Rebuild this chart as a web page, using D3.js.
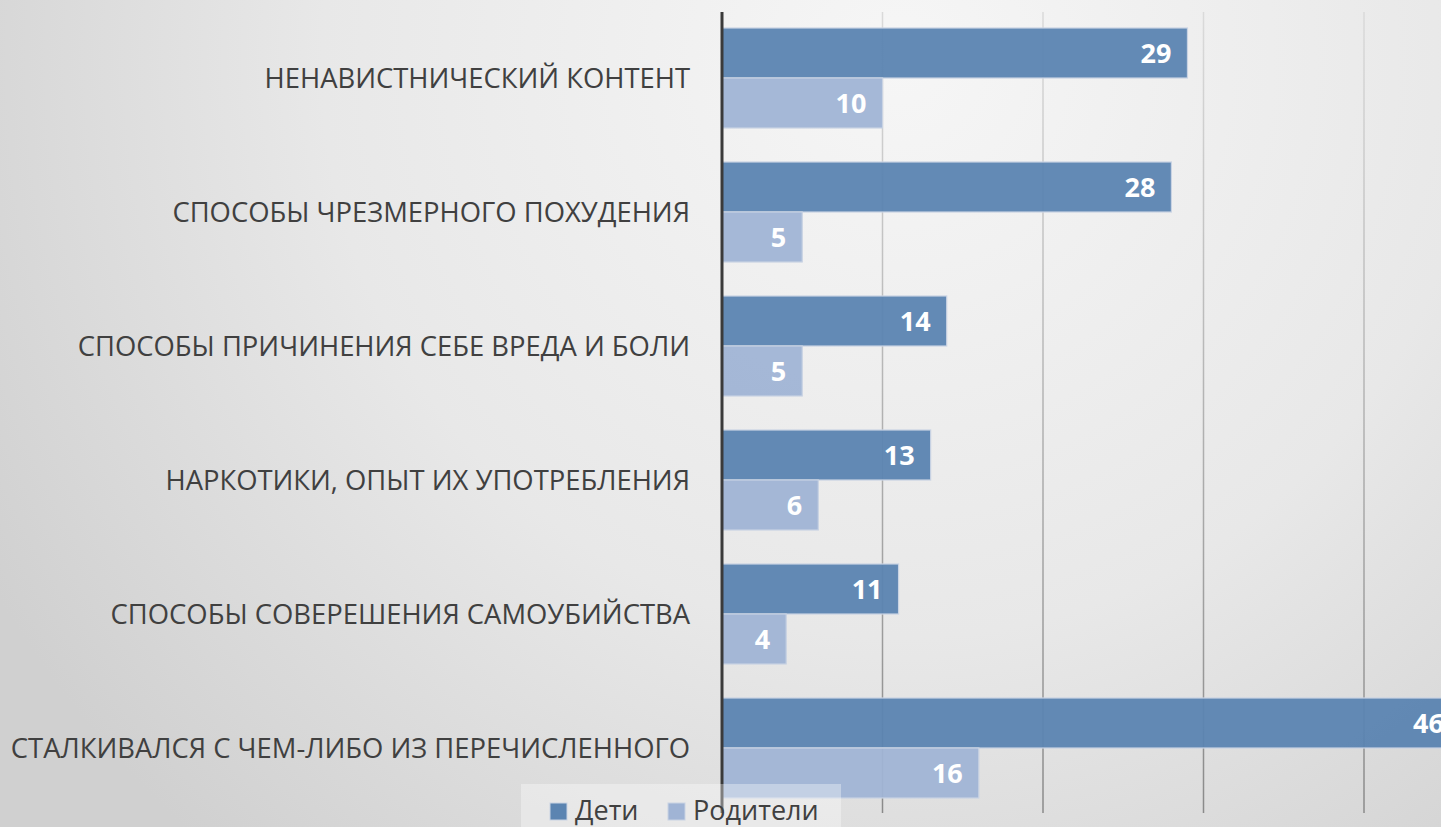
<!DOCTYPE html>
<html><head><meta charset="utf-8">
<script src="https://cdn.jsdelivr.net/npm/d3@7/dist/d3.min.js"></script>
<style>html,body{margin:0;padding:0;overflow:hidden;background:#e6e6e6}</style>
</head><body>
<svg id="c" width="1441" height="827"></svg>
<script>
const categories = [
  "НЕНАВИСТНИЧЕСКИЙ КОНТЕНТ",
  "СПОСОБЫ ЧРЕЗМЕРНОГО ПОХУДЕНИЯ",
  "СПОСОБЫ ПРИЧИНЕНИЯ СЕБЕ ВРЕДА И БОЛИ",
  "НАРКОТИКИ, ОПЫТ ИХ УПОТРЕБЛЕНИЯ",
  "СПОСОБЫ СОВЕРЕШЕНИЯ САМОУБИЙСТВА",
  "СТАЛКИВАЛСЯ С ЧЕМ-ЛИБО ИЗ ПЕРЕЧИСЛЕННОГО"
];
const seriesNames = ["Дети", "Родители"];
const childrenValues = [29, 28, 14, 13, 11, 46];
const parentsValues = [10, 5, 5, 6, 4, 16];
const gridTicks = [10, 20, 30, 40];
const colors = ["#5b84b1", "#a0b4d5"];

const W = 1441, H = 827;
const svg = d3.select("#c");
const defs = svg.append("defs");
const bg = defs.append("radialGradient").attr("id","bg")
  .attr("gradientUnits","userSpaceOnUse").attr("cx",900).attr("cy",60).attr("r",1050);
bg.append("stop").attr("offset","0").attr("stop-color","#f6f6f6");
bg.append("stop").attr("offset","0.55").attr("stop-color","#e8e8e8");
bg.append("stop").attr("offset","1").attr("stop-color","#d0d0d0");
svg.append("rect").attr("width",W).attr("height",H).attr("fill","url(#bg)");

const gg = defs.append("linearGradient").attr("id","gl")
  .attr("gradientUnits","userSpaceOnUse").attr("x1",0).attr("y1",12).attr("x2",0).attr("y2",813);
gg.append("stop").attr("offset","0").attr("stop-color","#dadada");
gg.append("stop").attr("offset","1").attr("stop-color","#8a8a8a");

const x = d3.scaleLinear().domain([0, 10]).range([722, 882.5]);
const y = d3.scaleBand().domain(categories).range([11, 815])
  .paddingInner(34/134).paddingOuter(17/134);
const sub = d3.scaleBand().domain(seriesNames).range([0, y.bandwidth()]);

// gridlines
svg.append("g").selectAll("line").data(gridTicks).join("line")
  .attr("x1", d=>x(d)).attr("x2", d=>x(d)).attr("y1", 12).attr("y2", 813)
  .attr("stroke","url(#gl)").attr("stroke-width",1.5);

const data = categories.map((c,i)=>({c, vals:[childrenValues[i], parentsValues[i]]}));
const groups = svg.append("g").selectAll("g").data(data).join("g")
  .attr("transform", d=>`translate(0,${y(d.c)})`);
groups.selectAll("rect").data(d=>d.vals.map((v,j)=>({v,j}))).join("rect")
  .attr("x", x(0)).attr("y", d=>sub(seriesNames[d.j]))
  .attr("width", d=>x(d.v)-x(0)).attr("height", sub.bandwidth())
  .attr("fill", d=>colors[d.j]).attr("fill-opacity",0.95)
  .attr("stroke","#c9d3e3").attr("stroke-width",1.2);
groups.selectAll("text.v").data(d=>d.vals.map((v,j)=>({v,j}))).join("text")
  .attr("class","v")
  .attr("x", d=>Math.min(x(d.v), W+19) - 16)
  .attr("y", d=>sub(seriesNames[d.j]) + sub.bandwidth()/2)
  .attr("dy","0.36em").attr("text-anchor","end")
  .attr("font-family","'Open Sans', sans-serif").attr("font-weight","bold")
  .attr("font-size",27).attr("fill","#ffffff").text(d=>d.v);

// category labels
svg.append("g").selectAll("text").data(categories).join("text")
  .attr("x", 690).attr("y", d=>y(d)+y.bandwidth()/2).attr("dy","0.36em")
  .attr("text-anchor","end").attr("font-family","'Open Sans', sans-serif")
  .attr("font-size",27.4).attr("fill","#404040").text(d=>d);

// axis line
svg.append("line").attr("x1",x(0)).attr("x2",x(0)).attr("y1",12).attr("y2",813)
  .attr("stroke","#3a3a3a").attr("stroke-width",3);

// legend
const lg = svg.append("g");
lg.append("rect").attr("x",521).attr("y",784).attr("width",320).attr("height",43)
  .attr("fill","#ffffff").attr("fill-opacity",0.35);
const legX = [550, 668];
seriesNames.forEach((n,i)=>{
  lg.append("rect").attr("x",legX[i]).attr("y",803).attr("width",17).attr("height",17)
    .attr("fill",colors[i]).attr("stroke","#c9d3e3").attr("stroke-width",1);
  lg.append("text").attr("x",legX[i]+25).attr("y",820).attr("font-family","'Open Sans', sans-serif")
    .attr("font-size",27).attr("fill","#404040").text(n);
});
</script>
</body></html>
